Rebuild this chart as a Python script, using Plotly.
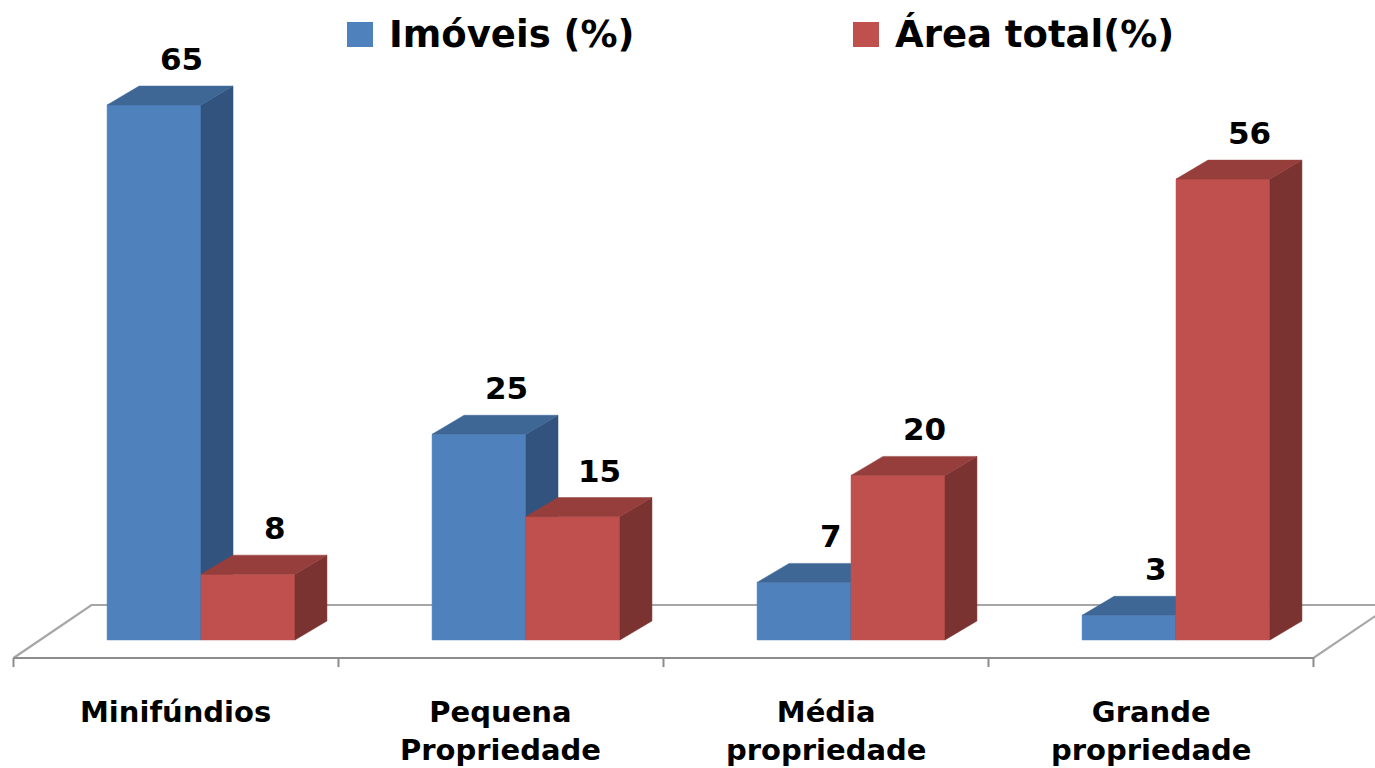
import plotly.graph_objects as go

# ---------------- data ----------------
categories = ["Minifúndios", "Pequena<br>Propriedade", "Média<br>propriedade", "Grande<br>propriedade"]
series_names = ["Imóveis (%)", "Área total(%)"]
imoveis = [65, 25, 7, 3]
area_total = [8, 15, 20, 56]

# ---------------- style ----------------
FONT = "DejaVu Sans"
BLUE = {"front": "#4F81BD", "top": "#3E6796", "side": "#31537E"}
RED = {"front": "#C0504D", "top": "#963E3C", "side": "#7A3331"}
W = 0.289          # bar width (x units)
DX = 0.0985        # depth offset x (x units)
DY = 2.31          # depth offset y (value units)
FLOOR_FRONT = -2.19
FLOOR_DX = 0.24
FLOOR_DV = 6.44
CAT_SHIFT = 0.077  # perspective shift of the floor relative to bars
TICK_LEN = 1.1

XR = [-0.6185, 3.6123]
YR = [-15.553, 77.764]

fig = go.Figure()

# ---------------- floor ----------------
n = len(categories)
fl = -0.5 - CAT_SHIFT
fr = n - 0.5 - CAT_SHIFT
fig.add_trace(go.Scatter(
    x=[fr + FLOOR_DX, fr, fl, fl + FLOOR_DX, fr + FLOOR_DX + 0.3],
    y=[FLOOR_FRONT + FLOOR_DV, FLOOR_FRONT, FLOOR_FRONT, FLOOR_FRONT + FLOOR_DV, FLOOR_FRONT + FLOOR_DV],
    mode="lines", line=dict(color="#A6A6A6", width=2.2), hoverinfo="skip", showlegend=False))
fig.add_trace(go.Scatter(
    x=[fl, fr], y=[FLOOR_FRONT, FLOOR_FRONT],
    mode="lines", line=dict(color="#8C8C8C", width=2.2), hoverinfo="skip", showlegend=False))
tx, ty = [], []
for k in range(n + 1):
    xt = k - 0.5 - CAT_SHIFT
    tx += [xt, xt, None]
    ty += [FLOOR_FRONT, FLOOR_FRONT - TICK_LEN, None]
fig.add_trace(go.Scatter(x=tx, y=ty, mode="lines", line=dict(color="#8C8C8C", width=2),
                         hoverinfo="skip", showlegend=False))


# ---------------- 3D bars ----------------
def faces(x0, v):
    front = [(x0, 0), (x0 + W, 0), (x0 + W, v), (x0, v)]
    top = [(x0, v), (x0 + W, v), (x0 + W + DX, v + DY), (x0 + DX, v + DY)]
    side = [(x0 + W, 0), (x0 + W + DX, DY), (x0 + W + DX, v + DY), (x0 + W, v)]
    return {"front": front, "top": top, "side": side}


def add_series(values, offset, colors, name):
    polys = {"front": [], "top": [], "side": []}
    for i, v in enumerate(values):
        f = faces(i + offset, v)
        for key in polys:
            polys[key].append(f[key])
    for key in ["front", "side", "top"]:
        xs, ys = [], []
        for p in polys[key]:
            xs += [pt[0] for pt in p] + [p[0][0], None]
            ys += [pt[1] for pt in p] + [p[0][1], None]
        fig.add_trace(go.Scatter(x=xs, y=ys, fill="toself", fillcolor=colors[key],
                                 mode="lines", line=dict(color=colors[key], width=0.5),
                                 hoverinfo="skip", name=name, showlegend=False))
    for i, v in enumerate(values):
        fig.add_annotation(x=i + offset + W / 2 + DX, y=v + DY, text=f"<b>{v}</b>",
                           showarrow=False, yanchor="middle", yshift=27, xshift=-5,
                           font=dict(family=FONT, size=31, color="black"))


add_series(imoveis, -W, BLUE, series_names[0])
add_series(area_total, 0.0, RED, series_names[1])

# ---------------- category labels ----------------
for i, c in enumerate(categories):
    fig.add_annotation(x=i - CAT_SHIFT, y=1 - 693 / 768, yref="paper", text=f"<b>{c}</b>",
                       showarrow=False, yanchor="top", xanchor="center",
                       font=dict(family=FONT, size=29, color="black"))

# ---------------- legend (manual) ----------------
legend_items = [(347, BLUE["front"], series_names[0]), (853, RED["front"], series_names[1])]
for x_px, col, name in legend_items:
    fig.add_shape(type="rect", xref="paper", yref="paper",
                  x0=x_px / 1375, x1=(x_px + 26) / 1375,
                  y0=1 - 47 / 768, y1=1 - 22 / 768,
                  fillcolor=col, line=dict(width=0))
    fig.add_annotation(x=(x_px + 40) / 1375, y=1 - 34 / 768, xref="paper", yref="paper",
                       text=f"<b>{name}</b>", showarrow=False, xanchor="left", yanchor="middle",
                       font=dict(family=FONT, size=37, color="black"))

fig.update_layout(
    width=1375, height=768,
    margin=dict(l=0, r=0, t=0, b=0),
    paper_bgcolor="white", plot_bgcolor="white",
    showlegend=False,
    xaxis=dict(range=XR, visible=False, fixedrange=True),
    yaxis=dict(range=YR, visible=False, fixedrange=True),
)

fig.write_html("out.html", config={"displayModeBar": False},
               post_script="document.body.style.margin='0';document.body.style.overflow='hidden';")
